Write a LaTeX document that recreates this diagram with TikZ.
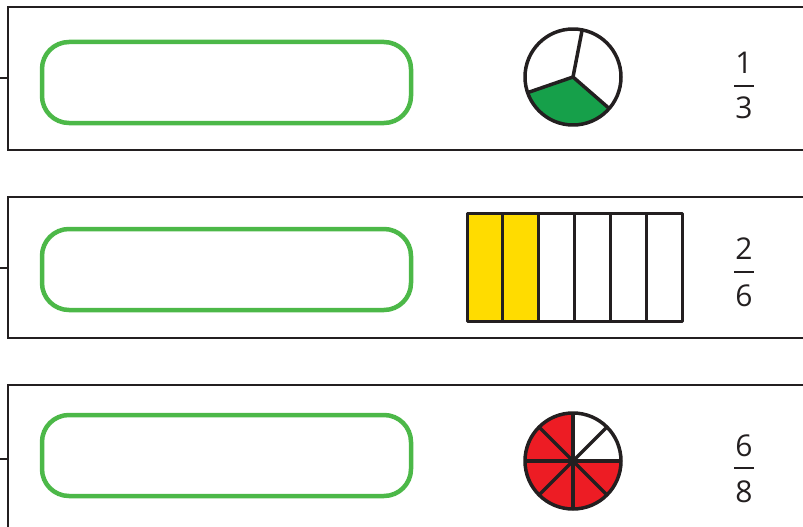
\documentclass[tikz,border=0pt]{standalone}
\usepackage{fontspec}
\setmainfont{Open Sans}
\definecolor{ink}{RGB}{35,31,32}
\definecolor{gbox}{RGB}{76,184,72}
\definecolor{gpie}{RGB}{22,160,74}
\definecolor{yfill}{RGB}{255,220,0}
\definecolor{rpie}{RGB}{237,28,36}
\tikzset{
  panel/.style={draw=ink, line width=2pt},
  tick/.style={draw=ink, line width=2pt},
  answer/.style={draw=gbox, line width=4.5pt, rounded corners=27pt},
  part/.style={draw=ink, line width=3.5pt, line join=round},
  digit/.style={font=\fontsize{30}{30}\selectfont, text=ink, inner sep=0pt},
  fbar/.style={draw=ink, line width=1.5pt}
}
\begin{document}
\begin{tikzpicture}[x=1pt,y=-1pt]
\useasboundingbox (0,0) rectangle (803,527);
\clip (0,0) rectangle (803,527);
% panels
\draw[panel] (8,7) rectangle (812,150);
\draw[panel] (8,197) rectangle (812,338);
\draw[panel] (8,385) rectangle (812,540);
\draw[tick] (0,78) -- (8,78);
\draw[tick] (0,268) -- (8,268);
\draw[tick] (0,459) -- (8,459);
% answer boxes
\draw[answer] (42,42) rectangle (411,123);
\draw[answer] (42,229) rectangle (411,310);
\draw[answer] (42,415) rectangle (411,496);
% pie thirds (angles negated because y points down)
\coordinate (c1) at (573,77);
\fill[gpie] (c1) -- ++(-199:48) arc[start angle=-199, end angle=-319, radius=48] -- cycle;
\draw[part] (c1) circle[radius=48];
\draw[part] (c1) -- ++(-79:48);
\draw[part] (c1) -- ++(-199:48);
\draw[part] (c1) -- ++(-319:48);
% bar sixths
\fill[fill=yfill] (467,213) rectangle (539,321);
\foreach \i in {1,...,5}{
  \draw[part, line width=3pt] ({467+\i*35.83},213) -- ({467+\i*35.83},321);
}
\draw[part, line width=3pt] (467,213) rectangle (682,321);
% pie eighths
\coordinate (c3) at (573,461);
\fill[rpie] (c3) -- ++(-90:48) arc[start angle=-90, end angle=-360, radius=48] -- cycle;
\draw[part] (c3) circle[radius=48];
\foreach \a in {0,45,...,315}{
  \draw[part] (c3) -- ++(\a:48);
}
% fractions
\node[digit] (n1) at (744,63) {1};
\node[digit] (d1) at (744,108) {3};
\draw[fbar] (734,86) -- (754,86);
\node[digit] (n2) at (744,249) {2};
\node[digit] (d2) at (744,296) {6};
\draw[fbar] (734,272) -- (754,272);
\node[digit] (n3) at (744,446) {6};
\node[digit] (d3) at (744,492) {8};
\draw[fbar] (734,468) -- (754,468);
\end{tikzpicture}
\end{document}
